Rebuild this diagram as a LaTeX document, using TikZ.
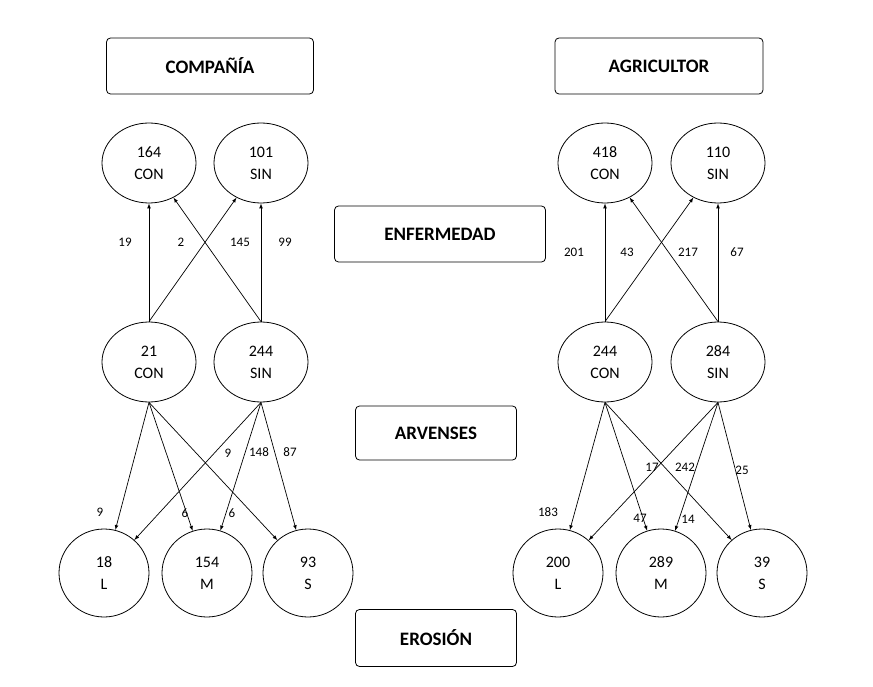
\documentclass[tikz,border=0pt]{standalone}
\usepackage{fontspec}
\setmainfont{Carlito}
\begin{document}
\begin{tikzpicture}[x=1pt,y=-1pt,
  box/.style={draw,rounded corners=4pt,line width=0.8pt,font=\bfseries\fontsize{19}{22}\selectfont,minimum height=56pt},
  el/.style={draw,ellipse,line width=0.8pt,minimum width=94pt,minimum height=80pt,align=center,font=\fontsize{16}{22}\selectfont,inner sep=0pt},
  bl/.style={el,minimum width=90pt,minimum height=88pt},
  ar/.style={-latex,line width=0.7pt},
  lb/.style={font=\fontsize{13}{15}\selectfont}]
\usetikzlibrary{shapes.geometric}
\useasboundingbox (0,0) rectangle (873,687);
\node[box,minimum width=207pt] (comp) at (210,66) {COMPAÑÍA};
\node[box,minimum width=208pt] (agri) at (659,66) {AGRICULTOR};
\node[box,minimum width=211pt] (enf) at (440,234) {ENFERMEDAD};
\node[box,minimum width=161pt,minimum height=54pt] (arv) at (436,433) {ARVENSES};
\node[box,minimum width=161pt,minimum height=57pt] (ero) at (436,638) {EROSIÓN};
% left
\node[el] (a1) at (149,163) {164\\CON};
\node[el] (a2) at (261,163) {101\\SIN};
\node[el] (b1) at (149,362) {21\\CON};
\node[el] (b2) at (261,362) {244\\SIN};
\node[bl] (c1) at (104,573) {18\\L};
\node[bl] (c2) at (207,573) {154\\M};
\node[bl] (c3) at (308,573) {93\\S};
% right
\node[el] (d1) at (605,163) {418\\CON};
\node[el] (d2) at (718,163) {110\\SIN};
\node[el] (e1) at (605,362) {244\\CON};
\node[el] (e2) at (718,362) {284\\SIN};
\node[bl] (f1) at (558,573) {200\\L};
\node[bl] (f2) at (661,573) {289\\M};
\node[bl] (f3) at (762,573) {39\\S};
% left arrows top
\draw[ar] (b1.north) -- (a1.south);
\draw[ar] (b1.north) -- (a2);
\draw[ar] (b2.north) -- (a1);
\draw[ar] (b2.north) -- (a2.south);
\draw[ar] (e1.north) -- (d1.south);
\draw[ar] (e1.north) -- (d2);
\draw[ar] (e2.north) -- (d1);
\draw[ar] (e2.north) -- (d2.south);
% bottom arrows
\foreach \s/\t in {b1/c1,b1/c2,b1/c3,b2/c1,b2/c2,b2/c3,e1/f1,e1/f2,e1/f3,e2/f1,e2/f2,e2/f3}
  \draw[ar] (\s.south) -- (\t);
% labels
\node[lb] (l1) at (125,242) {19};
\node[lb] (l2) at (181,242) {2};
\node[lb] (l3) at (240,242) {145};
\node[lb] (l4) at (285,242) {99};
\node[lb] (l5) at (574,252) {201};
\node[lb] (l6) at (627,252) {43};
\node[lb] (l7) at (688,252) {217};
\node[lb] (l8) at (737,252) {67};
\node[lb] (m1) at (100,512) {9};
\node[lb] (m2) at (185,513) {6};
\node[lb] (m3) at (232,513) {6};
\node[lb] (m4) at (228,453) {9};
\node[lb] (m5) at (259,452) {148};
\node[lb] (m6) at (290,452) {87};
\node[lb] (n1) at (548,512) {183};
\node[lb] (n2) at (640,518) {47};
\node[lb] (n3) at (688,519) {14};
\node[lb] (n4) at (652,467) {17};
\node[lb] (n5) at (685,467) {242};
\node[lb] (n6) at (742,470) {25};
\end{tikzpicture}
\end{document}
